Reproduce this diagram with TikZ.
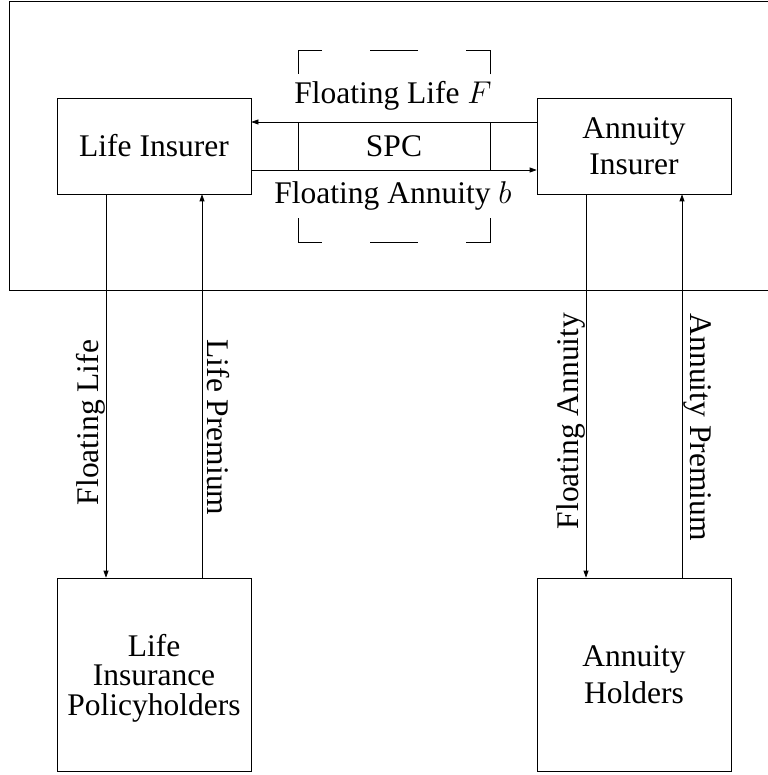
\RequirePackage{fix-cm}
\documentclass[tikz,border=0pt]{standalone}
\usepackage{fontspec}
\setmainfont{Liberation Serif}
\usetikzlibrary{arrows.meta}
\begin{document}
\begin{tikzpicture}[x=1pt,y=-1pt,
  lw/.style={line width=0.7pt},
  bigfont/.style={font=\fontsize{31.5}{36.5}\selectfont},
  box/.style={draw, lw, minimum width=194pt, inner sep=0pt, align=center, bigfont},
  spcbox/.style={draw, lw, minimum width=192pt, minimum height=192pt, inner sep=0pt,
    dash pattern=on 48pt off 48pt, dash phase=24pt, bigfont},
  arr/.style={draw, lw, -{Triangle[length=7pt,width=5pt]}},
  lab/.style={bigfont, inner sep=0pt, anchor=base},
  ]
\useasboundingbox (0,0) rectangle (767,775);
\draw[lw] (775,1.7) -- (9.5,1.7) -- (9.5,290.5) -- (775,290.5);

\node[box, minimum height=96pt] (li) at (154,146) {Life Insurer};
\node[box, minimum height=96pt] (ai) at (634,146) {Annuity\\Insurer};
\node[box, minimum height=193pt, text depth=0pt, font=\fontsize{31.5}{29.5}\selectfont] (lp) at (154,674.5) {Life\\Insurance\\Policyholders};
\node[box, minimum height=193pt] (ah) at (634,674.5) {Annuity\\Holders};
\node[spcbox] (spc) at (394,146.5) {SPC};

\node[lab] (fl) at (393,104) {Floating Life $F$};
\node[lab] (fa) at (393,203.3) {Floating Annuity $b$};
\node[lab, rotate=90] (vfl) at (98.5,422.5) {Floating Life};
\node[lab, rotate=-90] (vlp) at (207,427.5) {Life Premium};
\node[lab, rotate=90] (vfa) at (578,421) {Floating Annuity};
\node[lab, rotate=-90] (vap) at (690.5,427.3) {Annuity Premium};

\draw[arr] ([yshift=24pt]ai.west) -- ([yshift=24pt]li.east);
\draw[arr] ([yshift=-24pt]li.east) -- ([yshift=-24pt]ai.west);
\draw[arr] ([xshift=-48pt]li.south) -- ([xshift=-48pt]lp.north);
\draw[arr] ([xshift=48pt]lp.north) -- ([xshift=48pt]li.south);
\draw[arr] ([xshift=-48pt]ai.south) -- ([xshift=-48pt]ah.north);
\draw[arr] ([xshift=48pt]ah.north) -- ([xshift=48pt]ai.south);
\end{tikzpicture}
\end{document}
